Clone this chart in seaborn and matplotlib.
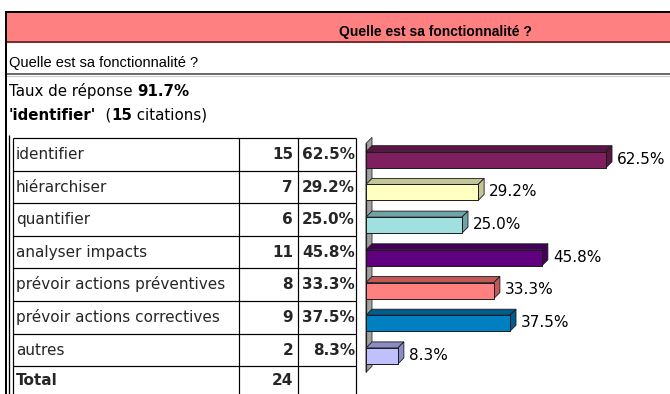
import matplotlib
matplotlib.use("Agg")
import matplotlib.pyplot as plt
from matplotlib.patches import Polygon, Rectangle
import pandas as pd
import seaborn as sns

# ---- data -------------------------------------------------------------
title = "Quelle est sa fonctionnalité ?"
question = "Quelle est sa fonctionnalité ?"
response_rate = "91.7%"
top_choice = "identifier"
top_count = 15
categories = ["identifier", "hiérarchiser", "quantifier", "analyser impacts",
              "prévoir actions préventives", "prévoir actions correctives", "autres"]
counts = [15, 7, 6, 11, 8, 9, 2]
percents = [62.5, 29.2, 25.0, 45.8, 33.3, 37.5, 8.3]
total = 24

front_colors = ["#7F1F5F", "#FFFFC0", "#A0E0E0", "#600080",
                "#FF8080", "#0080C0", "#C0C0FF"]
shade_colors = ["#5C1444", "#C4C49A", "#70A4A4", "#420058",
                "#C05858", "#005C8C", "#8C8CC4"]

# ---- figure -----------------------------------------------------------
W, H = 670, 394
sns.set_theme(style="white")
plt.rcParams["font.family"] = ["DejaVu Sans"]

fig = plt.figure(figsize=(W / 100, H / 100), dpi=100)
base = fig.add_axes([0, 0, 1, 1])
base.set_xlim(0, W)
base.set_ylim(H, 0)
base.axis("off")

PX = 0.72  # one pixel in points


def hline(y, x0, x1, color="black", lw=1.0, z=3):
    base.plot([x0, x1], [y, y], color=color, lw=lw * PX, solid_capstyle="butt", zorder=z)


def vline(x, y0, y1, color="black", lw=1.0, z=3):
    base.plot([x, x], [y0, y1], color=color, lw=lw * PX, solid_capstyle="butt", zorder=z)


# header band
base.add_patch(Rectangle((6.5, 12.5), W - 6.5, 29.5, facecolor="#FF8080",
                         edgecolor="none", zorder=1))
hline(11.5, 4.5, W, lw=2)
hline(42, 6, W, color="#7A3030", lw=2)
hline(74, 6, W, color="#3A3A3A", lw=1.5)
hline(75.6, 6, W, color="#C8C8C8", lw=1)
vline(5.6, 10.5, H, lw=2)
vline(9.0, 135, H, lw=1.3)

base.text(435, 36, title, family="Liberation Sans", fontweight="bold",
          fontsize=10, ha="center", va="baseline", color="black", zorder=4)
base.text(9, 67, question, family="Liberation Sans", fontsize=10.5,
          ha="left", va="baseline", color="black", zorder=4)

# response-rate lines, built from chained pieces of text
FS = 11


def chain(pieces, x, y, size):
    prev = None
    for txt, bold in pieces:
        kw = dict(fontsize=size, fontweight="bold" if bold else "normal",
                  color="black", zorder=4)
        if prev is None:
            prev = base.text(x, y, txt, ha="left", va="baseline", **kw)
        else:
            prev = base.annotate(txt, xy=(1, 0), xycoords=prev,
                                 ha="left", va="bottom", **kw)


chain([("Taux de réponse ", False), (response_rate, True)], 9, 96, 10.8)
chain([(f"'{top_choice}'", True), ("  (", False), (str(top_count), True),
       (" citations)", False)], 9, 119.5, 10.8)

# ---- table ------------------------------------------------------------
TAB_L, COL1, COL2, TAB_R = 12.5, 239, 298, 356
ROW0, ROW_H = 138, 32.6
for k in range(9):
    y = ROW0 + k * ROW_H
    if y < H + 2:
        hline(y, TAB_L, TAB_R, lw=1.2)
for x in (TAB_L, COL1, COL2, TAB_R):
    vline(x, ROW0, H + 2, lw=1.2)

for i, (cat, n, p) in enumerate(zip(categories, counts, percents)):
    yb = ROW0 + i * ROW_H + 21
    base.text(16, yb, cat, fontsize=FS, ha="left", va="baseline", zorder=4)
    base.text(293, yb, str(n), fontsize=FS, fontweight="bold",
              ha="right", va="baseline", zorder=4)
    base.text(355, yb, f"{p:.1f}%", fontsize=FS, fontweight="bold",
              ha="right", va="baseline", zorder=4)

yb = ROW0 + 7 * ROW_H + 19
base.text(16, yb, "Total", fontsize=FS, fontweight="bold", ha="left", va="baseline", zorder=4)
base.text(293, yb, str(total), fontsize=FS, fontweight="bold", ha="right",
          va="baseline", zorder=4)

# ---- 3D-style bar chart ------------------------------------------------
AX_L, AX_R = 366, W
PX_PER_PCT = 3.84
C0, STEP = 159.7, 32.7
DX, DY = 6, 6
ax_top = C0 - 0.5 * STEP
ax_bot = C0 + 6.5 * STEP

ax = fig.add_axes([AX_L / W, (H - ax_bot) / H, (AX_R - AX_L) / W, (ax_bot - ax_top) / H])
ax.set_facecolor("none")

df = pd.DataFrame({"categorie": categories, "pourcentage": percents})
sns.barplot(data=df, x="pourcentage", y="categorie", hue="categorie",
            palette=front_colors, legend=False, width=16 / STEP, saturation=1,
            edgecolor="#1A1A1A", linewidth=0.7, ax=ax)
ax.set_xlim(0, (AX_R - AX_L) / PX_PER_PCT)
ax.set_ylim(6.5, -0.5)
ax.axis("off")

# back wall
base.add_patch(Polygon([(AX_L, ax_top), (AX_L + DX, ax_top - DY),
                        (AX_L + DX, ax_bot - DY), (AX_L, ax_bot)],
                       closed=True, facecolor="#A0A0A0", edgecolor="#303030",
                       lw=0.6, zorder=1))
vline(AX_L, ax_top, ax_bot, color="#202020", lw=1.2, z=1.5)

to_base = base.transData.inverted()
for patch in ax.patches:
    x0, y0 = patch.get_x(), patch.get_y()
    w, h = patch.get_width(), patch.get_height()
    idx = int(round(y0 + h / 2))
    (L, B), (R, T) = to_base.transform(ax.transData.transform([(x0, y0 + h), (x0 + w, y0)]))
    shade = shade_colors[idx]
    top = [(L, T), (R, T), (R + DX, T - DY), (L + DX, T - DY)]
    side = [(R, T), (R, B), (R + DX, B - DY), (R + DX, T - DY)]
    for poly in (top, side):
        base.add_patch(Polygon(poly, closed=True, facecolor=shade,
                               edgecolor="#1A1A1A", lw=0.6, zorder=2))
    ax.annotate(f"{percents[idx]:.1f}%", xy=(x0 + w, y0 + h / 2),
                xytext=(7.9, 0.4), textcoords="offset points",
                ha="left", va="center", fontsize=11, family="DejaVu Sans",
                color="black", annotation_clip=False)

fig.savefig("out.png", dpi=100, facecolor="white")
